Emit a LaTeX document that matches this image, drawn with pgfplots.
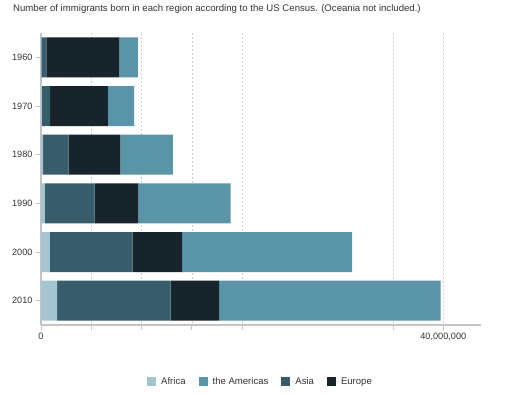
\documentclass[border=0pt]{standalone}
\usepackage{pgfplots}
\pgfplotsset{compat=1.18}
\usepackage{pgfplotstable}
\usepackage{fontspec}
\setmainfont{Liberation Sans}
\definecolor{cAfrica}{HTML}{A4C4CF}
\definecolor{cAmer}{HTML}{5A94A8}
\definecolor{cAsia}{HTML}{375D6C}
\definecolor{cEur}{HTML}{17242B}
\definecolor{txt}{HTML}{333333}
\definecolor{axisgray}{HTML}{C4C4C4}
\definecolor{gridgray}{HTML}{D0D0D0}

\pgfplotstableread{
y africa asia europe americas
0 35000 491000 7256000 1861000
1 80000 825000 5741000 2616000
2 200000 2540000 5150000 5215000
3 364000 4979000 4350000 9165000
4 881000 8226000 4916000 16916000
5 1607000 11284000 4817000 22031000
}\datatable

\begin{document}
\begin{tikzpicture}
\path[use as bounding box] (0bp,0bp) rectangle (521bp,394bp);
\node[anchor=base west, font=\fontsize{9.65}{11}\selectfont, text=txt, inner sep=0] at (13bp,382.5bp) {Number of immigrants born in each region according to the US Census. (Oceania not included.)};
\begin{axis}[
  at={(41bp,69bp)}, anchor=south west, scale only axis,
  width=440bp, height=292bp,
  xbar stacked, bar width=40bp,
  xmin=0, xmax=43750000, ymin=-0.5, ymax=5.5, y dir=reverse,
  ytick={0,1,2,3,4,5}, yticklabels={1960,1970,1980,1990,2000,2010},
  xtick={0,5000000,10000000,15000000,20000000,35000000,40000000},
  xticklabels={0,,,,,,{40,000,000}},
  scaled x ticks=false,
  xmajorgrids,
  grid style={gridgray, dash pattern=on 2bp off 2bp, line width=0.7bp},
  axis x line*=bottom, axis y line*=left,
  axis line style={axisgray, line width=1.8bp, -},
  tick align=outside,
  major tick length=5bp,
  tick style={axisgray, line width=0.8bp},
  ticklabel style={font=\fontsize{9.2}{11}\selectfont, text=txt},
  legend style={at={(0.4989,-0.195)}, anchor=center, draw=none, fill=none,
    legend columns=4, font=\fontsize{9.6}{11}\selectfont, text=txt,
    /tikz/every even column/.append style={column sep=11bp}},
  legend cell align=left,
  legend image code/.code={\fill[#1] (0bp,-4.5bp) rectangle (9bp,4.5bp); \path (0bp,0bp) -- (12bp,0bp);},
]
\addlegendimage{fill=cAfrica, draw=none}
\addlegendimage{fill=cAmer, draw=none}
\addlegendimage{fill=cAsia, draw=none}
\addlegendimage{fill=cEur, draw=none}
\legend{Africa, the Americas, Asia, Europe}
\addplot[fill=cAfrica, draw=none, forget plot] table[x=africa, y=y] {\datatable};
\addplot[fill=cAsia, draw=none, forget plot] table[x=asia, y=y] {\datatable};
\addplot[fill=cEur, draw=none, forget plot] table[x=europe, y=y] {\datatable};
\addplot[fill=cAmer, draw=none, forget plot] table[x=americas, y=y] {\datatable};
\end{axis}
\end{tikzpicture}
\end{document}
